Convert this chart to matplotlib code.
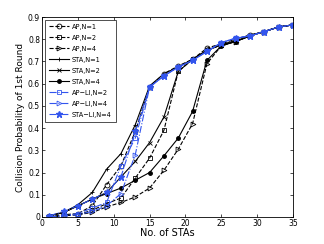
import matplotlib
matplotlib.use("Agg")
import matplotlib.pyplot as plt

# No. of STAs
n_sta = [1, 3, 5, 7, 9, 11, 13, 15, 17, 19, 21, 23, 25, 27, 29, 31, 33, 35]

# Collision probability of 1st round
ap_n1 = [0.0, 0.01, 0.015, 0.05, 0.145, 0.23, 0.385, 0.585, 0.645, 0.68, 0.71, 0.76, 0.78, 0.80, 0.82, 0.835, 0.855, 0.865]
ap_n2 = [0.0, 0.005, 0.01, 0.03, 0.06, 0.085, 0.175, 0.265, 0.39, 0.655, 0.71, 0.75, 0.775, 0.795, 0.815, 0.835, 0.855, 0.865]
ap_n4 = [0.0, 0.005, 0.01, 0.02, 0.045, 0.065, 0.09, 0.13, 0.21, 0.305, 0.42, 0.69, 0.77, 0.79, 0.815, 0.835, 0.855, 0.865]
sta_n1 = [0.005, 0.02, 0.055, 0.11, 0.215, 0.285, 0.415, 0.59, 0.645, 0.675, 0.71, 0.75, 0.775, 0.79, 0.815, 0.835, 0.855, 0.865]
sta_n2 = [0.005, 0.02, 0.05, 0.08, 0.11, 0.18, 0.25, 0.335, 0.45, 0.655, 0.71, 0.75, 0.775, 0.79, 0.815, 0.835, 0.855, 0.865]
sta_n4 = [0.005, 0.02, 0.05, 0.08, 0.105, 0.13, 0.165, 0.2, 0.275, 0.355, 0.475, 0.705, 0.77, 0.79, 0.815, 0.835, 0.855, 0.865]
apli_n2 = [0.0, 0.005, 0.015, 0.04, 0.065, 0.23, 0.355, 0.585, 0.635, 0.675, 0.705, 0.745, 0.785, 0.805, 0.815, 0.835, 0.855, 0.865]
apli_n4 = [0.0, 0.005, 0.01, 0.025, 0.05, 0.105, 0.28, 0.585, 0.635, 0.675, 0.705, 0.745, 0.785, 0.805, 0.815, 0.835, 0.855, 0.865]
stali_n4 = [0.005, 0.025, 0.05, 0.08, 0.11, 0.18, 0.385, 0.585, 0.635, 0.675, 0.705, 0.745, 0.785, 0.805, 0.815, 0.835, 0.855, 0.865]

blue = "#3355ee"

fig = plt.figure(figsize=(3.24, 2.44), dpi=100)
ax = fig.add_axes([0.13, 0.111, 0.774, 0.819])

lw = 0.8
ms = 3.5
ax.plot(n_sta, ap_n1, "k--", marker="o", mfc="none", ms=ms, lw=lw, mew=0.6, label="AP,N=1")
ax.plot(n_sta, ap_n2, "k--", marker="s", mfc="none", ms=ms, lw=lw, mew=0.6, label="AP,N=2")
ax.plot(n_sta, ap_n4, "k--", marker=">", mfc="none", ms=ms, lw=lw, mew=0.6, label="AP,N=4")
ax.plot(n_sta, sta_n1, "k-", marker="+", ms=ms, lw=lw, mew=0.6, label="STA,N=1")
ax.plot(n_sta, sta_n2, "k-", marker="x", ms=3, lw=lw, mew=0.6, label="STA,N=2")
ax.plot(n_sta, sta_n4, "k-", marker="o", ms=2.5, lw=lw, label="STA,N=4")
ax.plot(n_sta, apli_n2, "-.", color=blue, marker="s", mfc="none", ms=ms, lw=lw, mew=0.6, label="AP\u2212LI,N=2")
ax.plot(n_sta, apli_n4, "-.", color=blue, marker=">", mfc="none", ms=ms, lw=lw, mew=0.6, label="AP\u2212LI,N=4")
ax.plot(n_sta, stali_n4, "-.", color=blue, marker="*", ms=4.5, lw=lw, label="STA\u2212LI,N=4")

ax.set_xlim(0, 35)
ax.set_ylim(0, 0.9)
ax.set_xticks(range(0, 36, 5))
ax.set_yticks([i / 10 for i in range(10)])
ax.set_yticklabels(["0"] + ["0.%d" % i for i in range(1, 10)])
ax.tick_params(labelsize=5.5, direction="in", length=2, width=0.5, top=True, right=True, pad=1.5)
for s in ax.spines.values():
    s.set_linewidth(0.6)

ax.set_xlabel("No. of STAs", fontsize=7, labelpad=0)
ax.set_ylabel("Collision Probability of 1st Round", fontsize=6.5, labelpad=2)

leg = ax.legend(loc="upper left", fontsize=4.8, frameon=True, fancybox=False, edgecolor="black",
                borderaxespad=0.4, handlelength=3, labelspacing=0.75, handletextpad=0.5,
                borderpad=0.6)
leg.get_frame().set_linewidth(0.6)

fig.savefig("out.png", dpi=100)
